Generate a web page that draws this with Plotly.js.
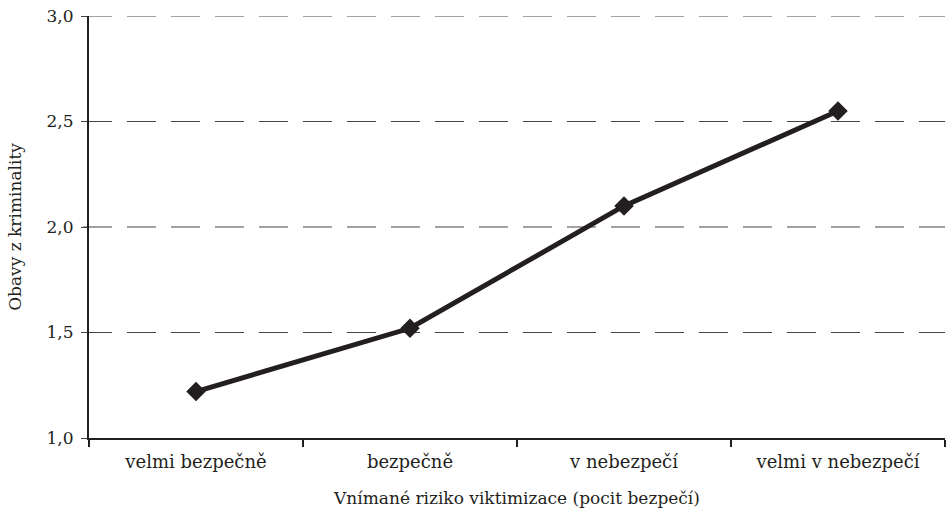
<!DOCTYPE html>
<html><head><meta charset="utf-8">
<script src="https://cdn.plot.ly/plotly-3.0.1.min.js"></script>
<style>html,body{margin:0;padding:0;background:#fff}</style>
</head><body><div id="chart" style="width:946px;height:515px"></div>
<script>
const categories = ["velmi bezpečně", "bezpečně", "v nebezpečí", "velmi v nebezpečí"];
const values = [1.22, 1.52, 2.10, 2.55];
const yTicks = [1.5, 2.0, 2.5, 3.0];
const yTickVals = [1.0, 1.5, 2.0, 2.5, 3.0];
const xTitle = "Vnímané riziko viktimizace (pocit bezpečí)";
const yTitle = "Obavy z kriminality";

const ink = "#231f20";
const fontFam = "DejaVu Serif";
const gridShapes = yTicks.map(v => ({
  type: "line", xref: "paper", yref: "y", x0: -6/856, x1: 1, y0: v, y1: v,
  line: {color: "#444", width: 1, dash: "29px,15px"}, layer: "below"
}));

Plotly.newPlot("chart", [{
  type: "scatter", mode: "lines+markers",
  x: categories, y: values,
  line: {color: ink, width: 5},
  marker: {symbol: "diamond", size: 15, color: ink},
  cliponaxis: false
}], {
  width: 946, height: 515,
  margin: {l: 89, r: 1, t: 16, b: 77},
  separators: ", ",
  font: {family: fontFam, size: 17, color: ink},
  showlegend: false,
  paper_bgcolor: "#fff", plot_bgcolor: "#fff",
  shapes: gridShapes,
  xaxis: {
    type: "category", range: [-0.5, 3.5],
    showline: true, linecolor: ink, linewidth: 2,
    ticks: "outside", tickson: "boundaries", ticklen: 7, tickwidth: 2, tickcolor: ink,
    showgrid: false, zeroline: false,
    tickfont: {family: fontFam, size: 18, color: ink}, ticklabelstandoff: 6,
    title: {text: xTitle, font: {family: fontFam, size: 17, color: ink}, standoff: 22}
  },
  yaxis: {
    range: [1, 3], tickvals: yTickVals, tickformat: ".1f",
    showline: true, linecolor: ink, linewidth: 2,
    ticks: "outside", ticklen: 6, tickwidth: 1, tickcolor: "#444",
    showgrid: false, zeroline: false,
    tickfont: {family: fontFam, size: 17, color: ink}, ticklabelstandoff: 4,
    title: {text: yTitle, font: {family: fontFam, size: 17, color: ink}, standoff: 21}
  }
}, {displayModeBar: false, staticPlot: true});
</script></body></html>
